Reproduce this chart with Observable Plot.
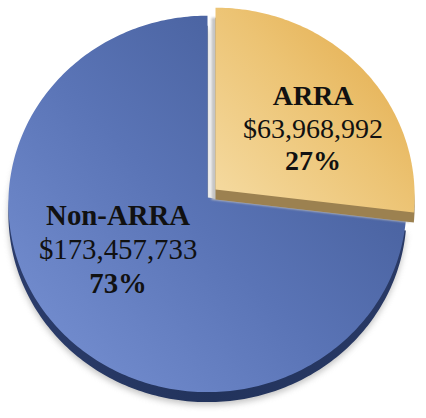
<!DOCTYPE html>
<html><head><meta charset="utf-8">
<script src="https://cdn.jsdelivr.net/npm/d3@7"></script>
<script src="https://cdn.jsdelivr.net/npm/@observablehq/plot@0.6"></script>
<style>body{margin:0;background:#fff}#chart{width:426px;height:418px}</style>
</head><body><div id="chart"></div>
<script>
// ---- data ----
const categories = ["ARRA", "Non-ARRA"];
const amounts = [63968992, 173457733];
const amountLabels = ["$63,968,992", "$173,457,733"];
const percentLabels = ["27%", "73%"];

// ---- layout ----
const W = 426, H = 418;
const cx = 207, cy = 197, R = 199, Ry = 188, persp = 0.034, depth = 10;
const explode = [[8, -8], [0, 0]];
const labelRX = [0.655, 0.6], labelRY = [0.487, 0.4165];
const fontSizes = [28, 28.8];
const lineGap = [[-33, 32], [-33.5, 34]];

const pie = d3.pie().sort(null).value(d => d.amount);
const slices = pie(categories.map((c, i) => ({category: c, amount: amounts[i]})));

function project(theta, r) {
  const u = r * Math.sin(theta), v = -r * Math.cos(theta);
  const k = 1 / (1 - persp * v);
  return [cx + u * R * k, cy + v * Ry * k];
}
function poly(s, dx, dy) {
  const [ex, ey] = explode[s.index];
  const pts = [[cx + ex + dx, cy + ey + dy]];
  const n = Math.max(8, Math.ceil((s.endAngle - s.startAngle) / (Math.PI / 180)));
  for (let j = 0; j <= n; j++) {
    const t = s.startAngle + (s.endAngle - s.startAngle) * j / n;
    const [x, y] = project(t, 1);
    pts.push([x + ex + dx, y + ey + dy]);
  }
  pts.push(pts[0]);
  return pts.map(([x, y]) => ({x, y, key: s.data.category}));
}
const blue = slices[1], gold = slices[0];

const labels = slices.map(s => {
  const mid = (s.startAngle + s.endAngle) / 2;
  const [ex, ey] = explode[s.index];
  return {
    x: cx + ex + labelRX[s.index] * R * Math.sin(mid),
    y: cy + ey - labelRY[s.index] * Ry * Math.cos(mid),
    name: s.data.category,
    amount: amountLabels[s.index],
    pct: percentLabels[s.index],
    i: s.index
  };
});

const FONT = "'Liberation Serif', 'Times New Roman', serif";
const textMarks = [];
labels.forEach(l => {
  const fs = fontSizes[l.i];
  const common = {x: "x", y: "y", fontFamily: FONT, fontSize: fs, fill: "#111", textAnchor: "middle"};
  textMarks.push(Plot.text([l], {...common, text: "name", fontWeight: "bold", dy: lineGap[l.i][0]}));
  textMarks.push(Plot.text([l], {...common, text: "amount"}));
  textMarks.push(Plot.text([l], {...common, text: "pct", fontWeight: "bold", dy: lineGap[l.i][1]}));
});

const chart = Plot.plot({
  width: W, height: H, margin: 0,
  style: {fontFamily: FONT},
  x: {domain: [0, W], range: [0, W], axis: null},
  y: {domain: [0, H], range: [0, H], axis: null},
  marks: [
    Plot.line(poly(blue, 0, depth + 3), {x: "x", y: "y", z: "key", fill: "#9a9a9a", stroke: "none", ariaDescription: "blue-shadow"}),
    Plot.line(poly(blue, 0, depth), {x: "x", y: "y", z: "key", fill: "url(#blueSide)", stroke: "none"}),
    Plot.line(poly(blue, 0, 0), {x: "x", y: "y", z: "key", fill: "url(#blueGrad)", stroke: "none"}),
    Plot.line(poly(gold, -4, depth), {x: "x", y: "y", z: "key", fill: "#c4c4c4", stroke: "none", ariaDescription: "gold-shadow"}),
    Plot.line(poly(gold, 0, depth), {x: "x", y: "y", z: "key", fill: "#9c8150", stroke: "none"}),
    Plot.line(poly(gold, 0, 0), {x: "x", y: "y", z: "key", fill: "url(#goldGrad)", stroke: "none"}),
    ...textMarks
  ]
});

const svg = d3.select(chart);
const defs = svg.insert("defs", ":first-child");
function grad(id, x1, y1, x2, y2, stops) {
  const g = defs.append("linearGradient").attr("id", id).attr("gradientUnits", "userSpaceOnUse")
    .attr("x1", x1).attr("y1", y1).attr("x2", x2).attr("y2", y2);
  stops.forEach(([o, c]) => g.append("stop").attr("offset", o).attr("stop-color", c));
}
grad("blueGrad", 30, 370, 390, 30, [[0, "#7690d2"], [0.45, "#5a74b6"], [1, "#3f5792"]]);
grad("blueSide", 0, 0, W, 0, [[0, "#2c3d6c"], [0.5, "#22335c"], [1, "#2a3a66"]]);
grad("goldGrad", 225, 190, 410, 15, [[0, "#f4d89c"], [0.5, "#ecc373"], [1, "#e2a947"]]);
const f = defs.append("filter").attr("id", "blur").attr("x", "-10%").attr("y", "-10%").attr("width", "120%").attr("height", "120%");
f.append("feGaussianBlur").attr("stdDeviation", 3);
const f2 = defs.append("filter").attr("id", "blur2").attr("x", "-10%").attr("y", "-10%").attr("width", "120%").attr("height", "120%");
f2.append("feGaussianBlur").attr("stdDeviation", 1.2);
svg.selectAll('[aria-description="blue-shadow"]').attr("filter", "url(#blur)").attr("opacity", 0.6);
svg.selectAll('[aria-description="gold-shadow"]').attr("filter", "url(#blur2)");

document.getElementById("chart").appendChild(chart);
</script>
</body></html>
